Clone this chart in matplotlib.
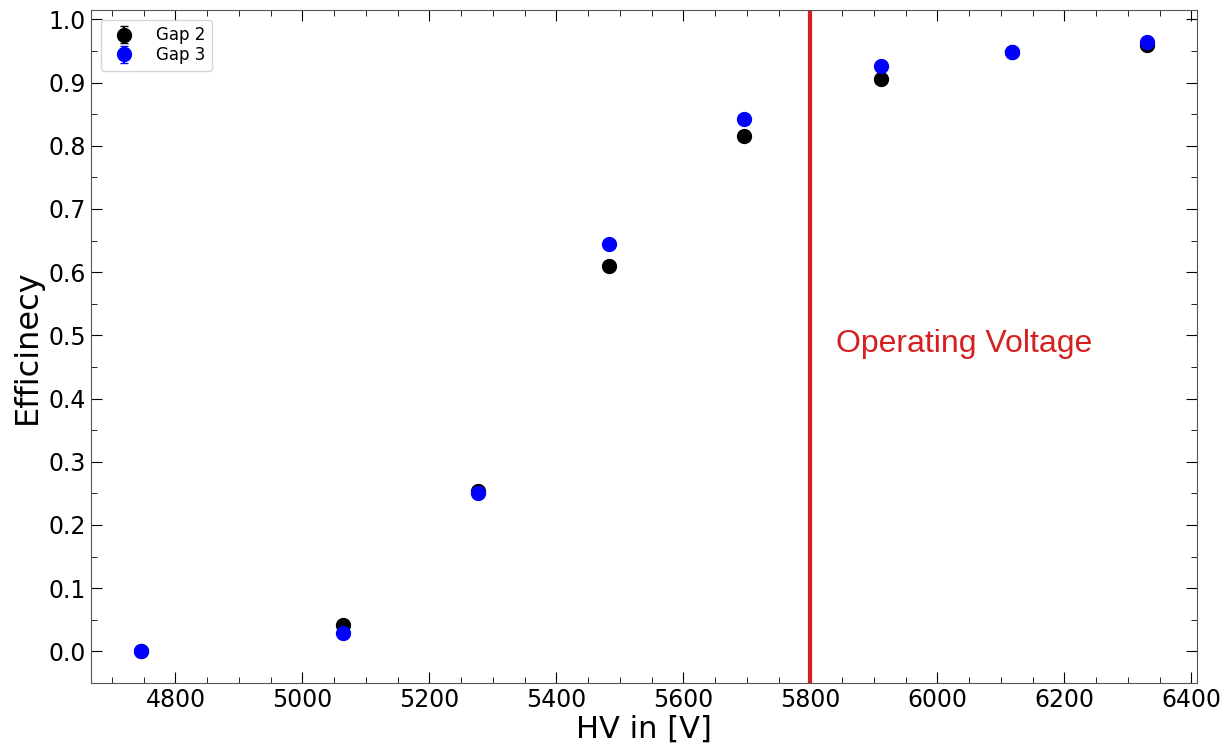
import matplotlib
matplotlib.use("Agg")
import matplotlib.pyplot as plt
from matplotlib.ticker import MultipleLocator

hv = [4746, 5064, 5276, 5483, 5695, 5911, 6118, 6330]
eff_gap2 = [0.000, 0.041, 0.254, 0.610, 0.816, 0.906, 0.949, 0.959]
eff_gap3 = [0.000, 0.029, 0.250, 0.645, 0.843, 0.927, 0.948, 0.965]
err_gap2 = [0.002, 0.003, 0.004, 0.004, 0.003, 0.003, 0.002, 0.002]
err_gap3 = [0.002, 0.003, 0.004, 0.004, 0.003, 0.003, 0.002, 0.002]
op_voltage = 5800

fig, ax = plt.subplots(figsize=(12.28, 7.45), dpi=100)
ax.errorbar(hv, eff_gap2, yerr=err_gap2, fmt="o", color="black", ms=10,
            capsize=3, label="Gap 2")
ax.errorbar(hv, eff_gap3, yerr=err_gap3, fmt="o", color="blue", ms=10,
            capsize=3, label="Gap 3")
ax.axvline(op_voltage, color="#d62020", lw=3)
ax.text(5840, 0.487, "Operating Voltage", color="#d62020", fontsize=23,
        family="Liberation Sans", va="center")

ax.set_xlabel("HV in [V]", fontsize=22, labelpad=2)
ax.set_ylabel("Efficinecy", fontsize=23, labelpad=4)
ax.xaxis.set_major_locator(MultipleLocator(200))
ax.xaxis.set_minor_locator(MultipleLocator(50))
ax.yaxis.set_major_locator(MultipleLocator(0.1))
ax.yaxis.set_minor_locator(MultipleLocator(0.05))
ax.tick_params(which="both", direction="in", top=True, right=True,
               labelsize=17)
ax.tick_params(which="major", length=8)
ax.tick_params(which="minor", length=4)
for sp in ax.spines.values():
    sp.set_color("#555555")
ax.legend(loc="upper left", fontsize=12, handletextpad=0.9,
          labelspacing=0.1, borderaxespad=0.6)

fig.subplots_adjust(left=0.074, right=0.975, top=0.987, bottom=0.083)
fig.savefig("out.png")
